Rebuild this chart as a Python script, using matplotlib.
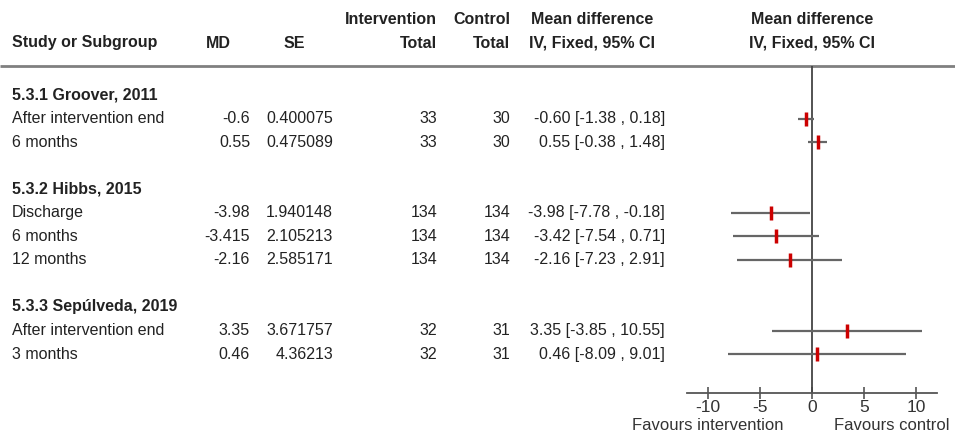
from decimal import Decimal, ROUND_HALF_UP

import matplotlib
matplotlib.use("Agg")
import matplotlib.pyplot as plt

plt.rcParams['font.family'] = ['Liberation Sans', 'DejaVu Sans']

# data
groups = ["5.3.1 Groover, 2011", "5.3.2 Hibbs, 2015", "5.3.3 Sepúlveda, 2019"]
group_of = [0, 0, 1, 1, 1, 2, 2]
labels = ["After intervention end", "6 months", "Discharge", "6 months", "12 months",
          "After intervention end", "3 months"]
md = [-0.6, 0.55, -3.98, -3.415, -2.16, 3.35, 0.46]
se = [0.400075, 0.475089, 1.940148, 2.105213, 2.585171, 3.671757, 4.36213]
n_int = [33, 33, 134, 134, 134, 32, 32]
n_ctl = [30, 30, 134, 134, 134, 31, 31]
ci_lo = [-1.38, -0.38, -7.78, -7.54, -7.23, -3.85, -8.09]
ci_hi = [0.18, 1.48, -0.18, 0.71, 2.91, 10.55, 9.01]
xticks = [-10, -5, 0, 5, 10]


def r2(v):
    return str(Decimal(str(v)).quantize(Decimal("0.01"), rounding=ROUND_HALF_UP))


W, H = 955, 434
txt = "#222222"
fs = 11.5

fig = plt.figure(figsize=(W / 100, H / 100), dpi=100)
ax = fig.add_axes([0, 0, 1, 1])
ax.set_xlim(0, W); ax.set_ylim(H, 0); ax.axis("off")

# layout in pixel units
y0, step = 95, 23.55
line_top, axis_y = 66, 393

# header
hb = dict(fontsize=fs, fontweight="bold", color=txt, va="center")
ax.text(12, 43, "Study or Subgroup", ha="left", **hb)
ax.text(218, 43, "MD", ha="center", **hb)
ax.text(294, 43, "SE", ha="center", **hb)
ax.text(437, 20, "Intervention", ha="right", **hb)
ax.text(437, 43, "Total", ha="right", **hb)
ax.text(510, 20, "Control", ha="right", **hb)
ax.text(510, 43, "Total", ha="right", **hb)
ax.text(592, 20, "Mean difference", ha="center", **hb)
ax.text(592, 43, "IV, Fixed, 95% CI", ha="center", **hb)
ax.text(812, 20, "Mean difference", ha="center", **hb)
ax.text(812, 43, "IV, Fixed, 95% CI", ha="center", **hb)
ax.plot([0, W], [line_top, line_top], color="#808080", lw=2.0, solid_capstyle="butt")

# row lines: group header, its rows, one blank line
row_line = []
line = 0
for g, name in enumerate(groups):
    ax.text(12, y0 + line * step, name, ha="left", **hb)
    line += 1
    for i in range(len(md)):
        if group_of[i] == g:
            row_line.append(line)
            line += 1
    line += 1

rb = dict(fontsize=fs, color=txt, va="center")
for i, ln in enumerate(row_line):
    y = y0 + ln * step
    ax.text(12, y, labels[i], ha="left", **rb)
    ax.text(250, y, str(md[i]), ha="right", **rb)
    ax.text(333, y, str(se[i]), ha="right", **rb)
    ax.text(437, y, str(n_int[i]), ha="right", **rb)
    ax.text(510, y, str(n_ctl[i]), ha="right", **rb)
    ax.text(665, y, f"{r2(md[i])} [{r2(ci_lo[i])} , {r2(ci_hi[i])}]", ha="right", **rb)

# forest panel
top_line = (line_top - y0) / step
bot_line = (axis_y - y0) / step
fx0, fx1 = 687, 937
fa = fig.add_axes([fx0 / W, (H - axis_y) / H, (fx1 - fx0) / W, (axis_y - line_top) / H])
fa.set_xlim(-12, 12)
fa.set_ylim(bot_line, top_line)
fa.patch.set_alpha(0)
for s in ["left", "right", "top"]:
    fa.spines[s].set_visible(False)
fa.spines["bottom"].set_color("#555555")
fa.spines["bottom"].set_linewidth(1.3)
fa.set_yticks([])
fa.set_xticks(xticks)
fa.set_xticklabels([str(t) for t in xticks])
fa.tick_params(axis="x", direction="inout", length=8, width=1.2, colors="#555555",
               labelcolor="#333333", labelsize=12.5, pad=1)
fa.axvline(0, color="#444444", lw=1.3)

fa.hlines(row_line, ci_lo, ci_hi, color="#666666", lw=1.6)
fa.plot(md, row_line, ls="none", marker="|", ms=10, mew=2.5, color="#cc0000")

fb = dict(fontsize=12, color="#333333", va="center")
ax.text(708, 425, "Favours intervention", ha="center", **fb)
ax.text(892, 425, "Favours control", ha="center", **fb)

fig.savefig("out.png", dpi=100)
